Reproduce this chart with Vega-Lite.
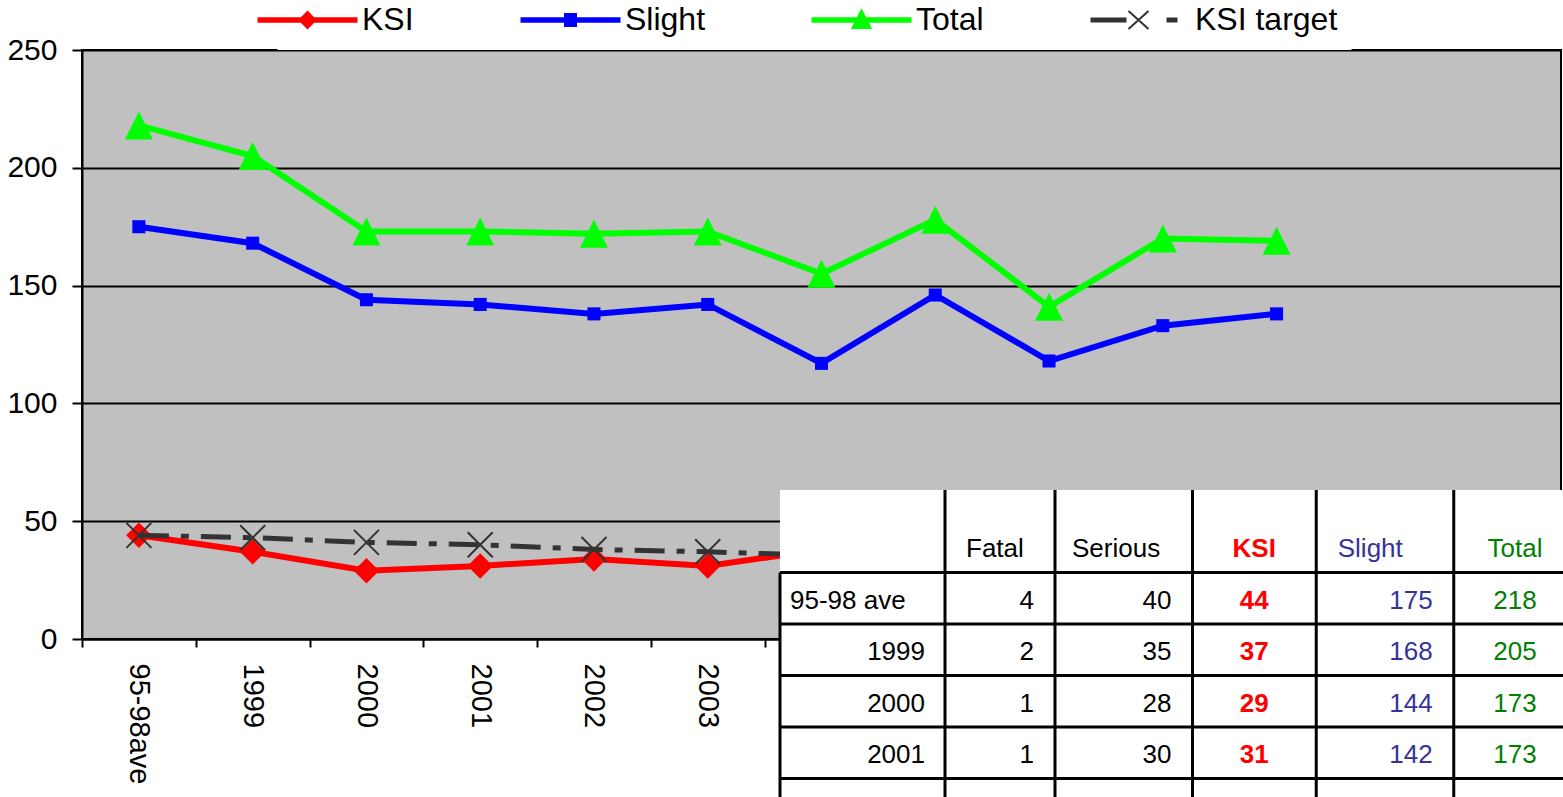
{
  "$schema": "https://vega.github.io/schema/vega-lite/v6.json",
  "width": 1479,
  "height": 589,
  "autosize": {"type": "none"},
  "padding": {"left": 82, "top": 50, "right": 2, "bottom": 158},
  "background": "white",
  "config": {
    "font": "Liberation Sans",
    "view": {"fill": "#C0C0C0", "stroke": "black", "strokeWidth": 2}
  },
  "datasets": {
    "roads": [
      {"row": "95-98 ave", "Fatal": 4, "Serious": 40, "KSI": 44, "Slight": 175, "Total": 218, "KSI target": 44},
      {"row": "1999", "Fatal": 2, "Serious": 35, "KSI": 37, "Slight": 168, "Total": 205, "KSI target": 43},
      {"row": "2000", "Fatal": 1, "Serious": 28, "KSI": 29, "Slight": 144, "Total": 173, "KSI target": 41},
      {"row": "2001", "Fatal": 1, "Serious": 30, "KSI": 31, "Slight": 142, "Total": 173, "KSI target": 40},
      {"row": "2002", "Fatal": 0, "Serious": 34, "KSI": 34, "Slight": 138, "Total": 172, "KSI target": 38},
      {"row": "2003", "KSI": 31, "Slight": 142, "Total": 173, "KSI target": 37},
      {"row": "2004", "KSI": 38, "Slight": 117, "Total": 155, "KSI target": 35.5},
      {"row": "2005", "KSI": 32, "Slight": 146, "Total": 178, "KSI target": 34},
      {"row": "2006", "KSI": 23, "Slight": 118, "Total": 141, "KSI target": 32.5},
      {"row": "2007", "KSI": 37, "Slight": 133, "Total": 170, "KSI target": 31},
      {"row": "2008", "KSI": 31, "Slight": 138, "Total": 169, "KSI target": 29.5}
    ]
  },
  "resolve": {"scale": {"x": "independent", "y": "independent"}},
  "layer": [
    {
      "data": {"name": "roads"},
      "transform": [{"fold": ["KSI", "Slight", "Total", "KSI target"], "as": ["series", "value"]}],
      "encoding": {
        "x": {
          "field": "row", "type": "nominal",
          "scale": {"type": "band", "domain": ["95-98 ave", "1999", "2000", "2001", "2002", "2003", "2004", "2005", "2006", "2007", "2008", "2009", "2010"], "paddingInner": 0, "paddingOuter": 0},
          "axis": {"title": null, "labelAngle": 90, "labelFontSize": 29, "labelColor": "black", "labelPadding": 16, "tickBand": "extent", "tickSize": 8, "tickColor": "black", "tickWidth": 2, "domainColor": "black", "domainWidth": 2, "grid": false, "labelOverlap": false, "labelExpr": "replace(datum.label, ' ', '')"}
        },
        "y": {
          "field": "value", "type": "quantitative",
          "scale": {"domain": [0, 250]},
          "axis": {"title": null, "values": [0, 50, 100, 150, 200, 250], "labelFontSize": 30, "labelColor": "black", "labelPadding": 15, "tickSize": 10, "tickColor": "black", "tickWidth": 2, "domainColor": "black", "domainWidth": 2, "grid": true, "gridColor": "black", "gridWidth": 2, "gridOpacity": 1}
        },
        "order": {"value": null}
      },
      "layer": [
        {
          "transform": [{"filter": "datum.series !== 'KSI target'"}],
          "mark": {"type": "line", "strokeWidth": 6},
          "encoding": {
            "color": {
              "field": "series", "type": "nominal",
              "scale": {"domain": ["KSI", "Slight", "Total", "KSI target"], "range": ["#FF0000", "#0000FF", "#00FF00", "#333333"]},
              "legend": {
                "orient": "none", "legendX": 195.5, "legendY": -60, "direction": "horizontal", "title": null,
                "labelFontSize": 32, "labelFont": "Liberation Sans", "labelColor": "black", "labelLimit": 400,
                "symbolSize": 400, "labelOffset": 38.5, "columnPadding": 103, "padding": 14,
                "fillColor": "white", "strokeColor": null,
                "encode": {
                  "symbols": {
                    "update": {
                      "shape": {"signal": "datum.value === 'KSI' ? 'M-4.9,-0.18H4.9V0.18H-4.9ZM0,-0.8L0.8,0L0,0.8L-0.8,0Z' : datum.value === 'Slight' ? 'M-4.9,-0.18H4.9V0.18H-4.9ZM-0.55,-0.6H0.55V0.6H-0.55Z' : datum.value === 'Total' ? 'M-4.9,-0.18H4.9V0.18H-4.9ZM0,-0.95L0.9,0.8H-0.9Z' : 'M-4.9,-0.15H-1.5V0.15H-4.9ZM2.7,-0.15H3.6V0.15H2.7ZM-1.2,-0.9L0.8,0.9M-1.2,0.9L0.8,-0.9'"},
                      "fill": {"signal": "datum.value === 'KSI' ? '#FF0000' : datum.value === 'Slight' ? '#0000FF' : datum.value === 'Total' ? '#00FF00' : '#333333'"},
                      "stroke": {"signal": "datum.value === 'KSI' ? '#FF0000' : datum.value === 'Slight' ? '#0000FF' : datum.value === 'Total' ? '#00FF00' : '#333333'"},
                      "strokeWidth": {"value": 2},
                      "strokeDash": {"value": []},
                      "size": {"value": 400},
                      "opacity": {"value": 1},
                      "fillOpacity": {"value": 1},
                      "strokeOpacity": {"value": 1}
                    }
                  }
                }
              }
            }
          }
        },
        {
          "transform": [{"filter": "datum.series === 'KSI'"}],
          "mark": {"type": "point", "shape": "diamond", "size": 650, "filled": true, "color": "#FF0000", "opacity": 1}
        },
        {
          "transform": [{"filter": "datum.series === 'Slight'"}],
          "mark": {"type": "point", "shape": "square", "size": 170, "filled": true, "color": "#0000FF", "opacity": 1}
        },
        {
          "transform": [{"filter": "datum.series === 'Total'"}],
          "mark": {"type": "point", "shape": "M0,-1L1,1H-1Z", "size": 784, "filled": true, "color": "#00FF00", "opacity": 1}
        },
        {
          "transform": [{"filter": "datum.series === 'KSI target'"}],
          "mark": {"type": "line", "strokeWidth": 5, "color": "#333333", "strokeDash": [30, 12, 8, 12]}
        },
        {
          "transform": [{"filter": "datum.series === 'KSI target'"}],
          "mark": {"type": "point", "shape": "M-1,-1L1,1M-1,1L1,-1", "size": 625, "filled": false, "color": "#333333", "strokeWidth": 2, "opacity": 1}
        }
      ]
    },
    {
      "data": {"name": "roads"},
      "transform": [{"fold": ["Fatal", "Serious", "KSI", "Slight", "Total"], "as": ["col", "value"]}],
      "encoding": {
        "x": {
          "field": "col", "type": "nominal", "bandPosition": 1, "axis": null,
          "scale": {"type": "band", "paddingInner": 0, "paddingOuter": 0, "range": [698, 1509.25],
            "domain": ["u1","u2","u3","u4","u5","u6","u7","u8","u9","u10","u11","label","u13","u14","u15","u16","u17","u18","u19","Fatal","u21","u22","u23","u24","u25","u26","u27","u28","u29","Serious","u31","u32","u33","u34","u35","u36","u37","u38","KSI","u40","u41","u42","u43","u44","u45","u46","u47","u48","Slight","u50","u51","u52","u53","u54","u55","u56","u57","Total","END"]}
        },
        "y": {
          "field": "row", "type": "nominal", "bandPosition": 1, "axis": null,
          "scale": {"type": "band", "paddingInner": 0, "paddingOuter": 0, "range": [440, 1099.2],
            "domain": ["h1","h2","h3","h4","h5","h6","h7","Header","d1","d2","d3","d4","95-98 ave","d5","d6","d7","d8","1999","d9","d10","d11","d12","2000","d13","d14","d15","d16","2001","d17","d18","d19","d20","2002","d21","d22","d23","d24","2003","d25","d26","d27","d28","2004","d29","d30","d31","d32","2005","d33","d34","d35","d36","2006","d37","d38","d39","d40","2007","d41","d42","d43","d44","2008","BOTTOM"]}
        }
      },
      "layer": [
        {
          "transform": [{"filter": "datum.row === '95-98 ave' && datum.col === 'Fatal'"}],
          "mark": {"type": "rect", "fill": "white"},
          "encoding": {
            "x": {"datum": "u1", "type": "nominal", "bandPosition": 0},
            "x2": {"datum": "END"},
            "y": {"datum": "h1", "type": "nominal", "bandPosition": 0},
            "y2": {"datum": "BOTTOM"}
          }
        },
        {
          "transform": [{"filter": "datum.row === '95-98 ave'"}],
          "mark": {"type": "rule", "color": "black", "strokeWidth": 3},
          "encoding": {
            "y": {"datum": "h1", "type": "nominal", "bandPosition": 0},
            "y2": {"datum": "BOTTOM"}
          }
        },
        {
          "transform": [{"filter": "datum.row === '95-98 ave' && datum.col === 'Fatal'"}],
          "mark": {"type": "rule", "color": "black", "strokeWidth": 3},
          "encoding": {
            "x": {"datum": "label", "type": "nominal", "bandPosition": 1},
            "y": {"datum": "h1", "type": "nominal", "bandPosition": 0},
            "y2": {"datum": "BOTTOM"}
          }
        },
        {
          "transform": [{"filter": "datum.row === '95-98 ave' && datum.col === 'Fatal'"}],
          "mark": {"type": "rule", "color": "black", "strokeWidth": 3},
          "encoding": {
            "x": {"datum": "u1", "type": "nominal", "bandPosition": 0},
            "y": {"datum": "Header", "type": "nominal", "bandPosition": 1},
            "y2": {"datum": "BOTTOM"}
          }
        },
        {
          "transform": [{"filter": "datum.col === 'Fatal'"}],
          "mark": {"type": "rule", "color": "black", "strokeWidth": 3},
          "encoding": {
            "x": {"datum": "u1", "type": "nominal", "bandPosition": 0},
            "x2": {"datum": "END"}
          }
        },
        {
          "transform": [{"filter": "datum.row === '95-98 ave' && datum.col === 'Fatal'"}],
          "mark": {"type": "rule", "color": "black", "strokeWidth": 3},
          "encoding": {
            "x": {"datum": "u1", "type": "nominal", "bandPosition": 0},
            "x2": {"datum": "END"},
            "y": {"datum": "Header", "type": "nominal", "bandPosition": 1}
          }
        },
        {
          "transform": [{"filter": "(datum.col === 'Fatal' || datum.col === 'Serious') && isValid(datum.value)"}],
          "mark": {"type": "text", "align": "right", "baseline": "alphabetic", "dx": -21, "dy": -15, "fontSize": 26, "color": "black"},
          "encoding": {"text": {"field": "value", "type": "quantitative"}}
        },
        {
          "transform": [{"filter": "datum.col === 'Slight' && isValid(datum.value)"}],
          "mark": {"type": "text", "align": "right", "baseline": "alphabetic", "dx": -21, "dy": -15, "fontSize": 26, "color": "#333399"},
          "encoding": {"text": {"field": "value", "type": "quantitative"}}
        },
        {
          "transform": [{"filter": "datum.col === 'KSI' && isValid(datum.value)"}],
          "mark": {"type": "text", "align": "center", "baseline": "alphabetic", "dx": -62, "dy": -15, "fontSize": 26, "fontWeight": "bold", "color": "#FF0000"},
          "encoding": {"text": {"field": "value", "type": "quantitative"}}
        },
        {
          "transform": [{"filter": "datum.col === 'Total' && isValid(datum.value)"}],
          "mark": {"type": "text", "align": "center", "baseline": "alphabetic", "dx": -62.5, "dy": -15, "fontSize": 26, "color": "#008000"},
          "encoding": {"text": {"field": "value", "type": "quantitative"}}
        },
        {
          "transform": [{"filter": "datum.row === '95-98 ave' && datum.col === 'Fatal'"}],
          "mark": {"type": "text", "align": "left", "baseline": "alphabetic", "dx": -89, "dy": -15, "fontSize": 26, "color": "black"},
          "encoding": {"y": {"datum": "Header", "type": "nominal", "bandPosition": 1}, "text": {"field": "col"}}
        },
        {
          "transform": [{"filter": "datum.row === '95-98 ave' && datum.col === 'Serious'"}],
          "mark": {"type": "text", "align": "left", "baseline": "alphabetic", "dx": -120.5, "dy": -15, "fontSize": 26, "color": "black"},
          "encoding": {"y": {"datum": "Header", "type": "nominal", "bandPosition": 1}, "text": {"field": "col"}}
        },
        {
          "transform": [{"filter": "datum.row === '95-98 ave' && datum.col === 'Slight'"}],
          "mark": {"type": "text", "align": "left", "baseline": "alphabetic", "dx": -116, "dy": -15, "fontSize": 26, "color": "#333399"},
          "encoding": {"y": {"datum": "Header", "type": "nominal", "bandPosition": 1}, "text": {"field": "col"}}
        },
        {
          "transform": [{"filter": "datum.row === '95-98 ave' && datum.col === 'KSI'"}],
          "mark": {"type": "text", "align": "center", "baseline": "alphabetic", "dx": -62, "dy": -15, "fontSize": 26, "fontWeight": "bold", "color": "#FF0000"},
          "encoding": {"y": {"datum": "Header", "type": "nominal", "bandPosition": 1}, "text": {"field": "col"}}
        },
        {
          "transform": [{"filter": "datum.row === '95-98 ave' && datum.col === 'Total'"}],
          "mark": {"type": "text", "align": "center", "baseline": "alphabetic", "dx": -62.5, "dy": -15, "fontSize": 26, "color": "#008000"},
          "encoding": {"y": {"datum": "Header", "type": "nominal", "bandPosition": 1}, "text": {"field": "col"}}
        },
        {
          "transform": [{"filter": "datum.col === 'Fatal' && datum.row !== '95-98 ave'"}],
          "mark": {"type": "text", "align": "right", "baseline": "alphabetic", "dx": -20, "dy": -15, "fontSize": 26, "color": "black"},
          "encoding": {"x": {"datum": "label", "type": "nominal", "bandPosition": 1}, "text": {"field": "row"}}
        },
        {
          "transform": [{"filter": "datum.col === 'Fatal' && datum.row === '95-98 ave'"}],
          "mark": {"type": "text", "align": "left", "baseline": "alphabetic", "dx": -155, "dy": -15, "fontSize": 26, "color": "black"},
          "encoding": {"x": {"datum": "label", "type": "nominal", "bandPosition": 1}, "text": {"field": "row"}}
        }
      ]
    }
  ]
}
